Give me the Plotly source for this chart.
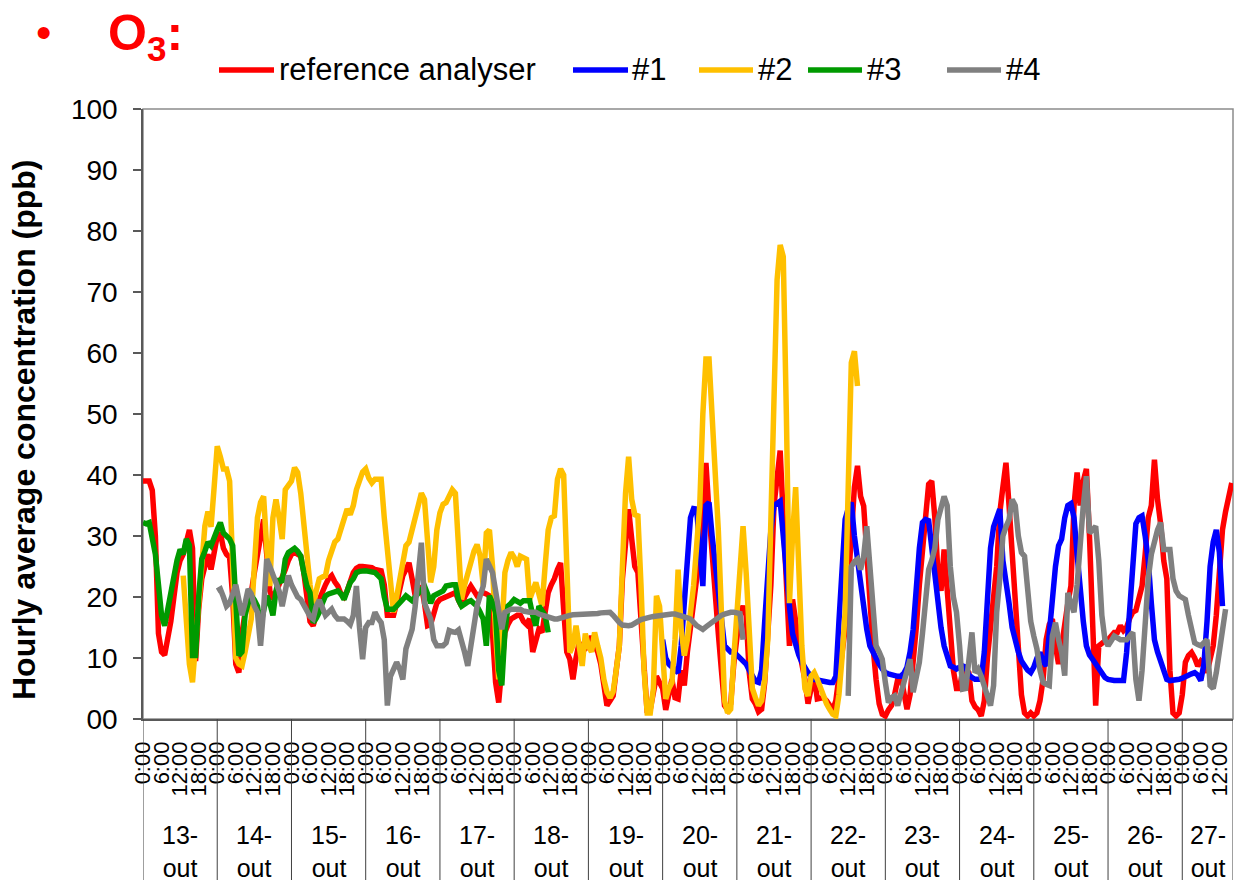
import plotly.graph_objects as go

# ---------------------------------------------------------------------------
# Hourly O3 concentrations (ppb), 13-out 0:00 onwards (hour index 0 = 13-out 0:00)
# ---------------------------------------------------------------------------
days = ["13-", "14-", "15-", "16-", "17-", "18-", "19-", "20-",
        "21-", "22-", "23-", "24-", "25-", "26-", "27-"]
month = "out"
hour_labels = ["0:00", "6:00", "12:00", "18:00"]
y_tick_labels = ["00", "10", "20", "30", "40", "50", "60", "70", "80", "90", "100"]

ref_start = 0
ref_values = [
    39, 39, 39, 37.5, 30, 14, 11, 10.5, 13, 16, 20, 24, 26, 27, 29, 31, 28, 9.5, 18, 23, 25, 27, 24.5, 28,
    30, 30.5, 28, 27, 26.5, 20, 9, 7.6, 14, 17.5, 19, 20.7, 24, 27, 31, 32.7, 27, 21, 19.6, 20.7, 22, 23, 24.5, 26,
    27, 27.3, 27, 26.7, 24, 19, 16, 15.3, 17, 19.6, 21, 22, 23, 23.5, 22.5, 21.8, 20.5, 20, 21, 22.5, 24, 24.7, 25, 25,
    25, 24.8, 24.8, 24.5, 24.5, 24.3, 22, 17, 17, 17, 19, 21, 23.5, 24.5, 25.6, 23, 20.2, 21, 21.8, 19, 15.3, 15.5, 17.5, 19,
    19.6, 19.8, 20, 20.2, 20.5, 20.7, 19.5, 18.5, 20, 21, 21.8, 21, 20.2, 20.5, 20.7, 20.5, 20.2, 14, 6, 2.7, 9, 14.2, 15.5, 16.4,
    16.7, 17, 17, 16, 15.5, 16.4, 11, 13, 14.7, 14.2, 17, 20.7, 22, 23, 24.5, 25.6, 18, 11, 9.8, 6.5, 10, 12.5, 11.5, 11.5,
    12, 13.6, 12, 11, 9, 5, 2.2, 3, 3.8, 8, 12, 23, 29, 34.4, 29.5, 25, 24, 16, 7, 1, 1.6, 4, 7, 6,
    5, 1.5, 4, 6.5, 3.5, 3.3, 8, 5.5, 11, 15, 19, 21.8, 27, 34, 42, 33.8, 28, 20, 14, 8, 2.2, 1.5, 2.5, 9,
    13, 17.5, 18.5, 17, 7.6, 3.3, 2.5, 1.2, 1.6, 6, 14, 22, 35, 40, 44, 33, 24, 12, 19.6, 16, 11.5, 9, 6.5, 2.5,
    5, 7, 3.3, 3.3, 3.5, 3, 2.2, 1.5, 3, 6.5, 11, 14.7, 22, 32, 38, 41.5, 36.5, 34.9, 26, 17, 12, 6.5, 2.5, 0.8,
    0.5, 1.5, 2.2, 4, 6.5, 7, 4, 1.6, 4, 9, 15, 22, 28, 34.5, 38.5, 39, 33, 24, 21, 27.8, 22, 16, 8, 5,
    5, 8, 8.2, 7.6, 3, 2, 1.5, 0.5, 3, 10, 14.2, 20, 25, 33.8, 38, 42, 35, 27, 18, 12, 4, 1, 0.5, 1,
    0.5, 1, 3, 6.5, 13, 15.5, 16.4, 12, 9, 12, 16, 19, 21.8, 35, 40.4, 35, 39, 41, 30, 17.5, 2.2, 12, 12.5, 12.8,
    13, 13.8, 14.2, 14.2, 15.3, 14.5, 15, 16.5, 17.5, 17.8, 20, 21.8, 27, 33, 35, 42.5, 36, 32, 26, 23, 8, 1, 0.5, 1,
    4, 9.3, 10.4, 10.9, 10, 8.7, 9.5, 9, 7.6, 10, 12, 17, 24, 31, 34, 36, 38.7,
]

s1_start = 168
s1_values = [
    13, 10, 9, 8.5, 8, 7.6, 12, 20, 27, 33, 34.5, 34.4, 28, 21.8, 35, 35.5, 30, 25, 20, 16, 12, 11.5, 11, 11,
    10.5, 10.2, 9.8, 9, 8, 7, 6.2, 6, 8, 16, 25, 31, 35, 35.5, 35.7, 30, 23, 18.5, 14, 12, 10.5, 9.3, 8.3, 7.6,
    7, 6.5, 6.4, 6.3, 6, 6, 6, 6, 7, 16, 23, 32.7, 34.5, 35.5, 30, 26, 21.8, 18, 14.7, 12, 10.9, 9.8, 9, 8.2,
    7.6, 7.4, 7.2, 7.1, 7, 7, 7.5, 8.5, 11, 14.7, 22, 28, 32.2, 32.7, 32.5, 28, 24, 20.2, 15, 12, 10, 8.7, 8.5, 8.2,
    8.5, 8.7, 8.5, 7.2, 6.8, 6.5, 6.5, 6.5, 11, 18, 28, 31.5, 33, 34.4, 26, 23, 19, 15, 12.5, 11, 9.5, 8.7, 8, 7.6,
    8.5, 10, 10.9, 9.5, 8.7, 14, 20, 25, 28.4, 29.5, 33, 35, 35.3, 33, 27, 20, 16, 12, 10.5, 9.8, 9, 8.3, 7.5, 6.8,
    6.5, 6.3, 6.3, 6.3, 6.3, 6.3, 10.9, 18, 28, 32, 33, 33.3, 30, 26, 19, 13, 11, 9.3, 7.5, 6.5, 6.3, 6.3, 6.3, 6.5,
    6.7, 7, 7.2, 7.4, 7.6, 7.2, 6.3, 9, 16, 25, 29, 31, 27.3, 18.5,
]

s2_start = 13
s2_values = [
    23.5, 16, 9, 6, 13, 20, 25, 31.6, 34, 31.5, 38,
    44.7, 43, 41, 41, 39, 25, 10, 9, 8.7, 11, 14, 16.4, 25, 33, 35.5, 36.5, 28, 21.8, 33, 36, 33, 29.5, 37.6, 38.5,
    39, 41.2, 40.4, 37, 31, 27, 22, 18.5, 21, 23, 23.3, 23.5, 26, 27.5, 29, 29.5, 31, 33, 34.4, 33.5, 35, 37.6, 39, 40.5,
    41, 39.5, 38.7, 39.3, 39.3, 39.3, 33, 28.4, 22, 17.5, 20, 23, 26, 28.4, 29, 31, 33.8, 35.5, 37, 36, 30, 22.4, 25, 31,
    33.8, 35.2, 35.5, 36.5, 37.6, 37, 28, 19.6, 22, 24, 26.2, 27.5, 28.6, 26.7, 21.8, 30.5, 31, 25, 14, 6.5, 14.2, 24, 26, 27.3,
    26.5, 25, 26.7, 26.5, 26.2, 19.6, 21, 22.4, 20.5, 18.5, 25, 31, 33, 33.3, 39.3, 41, 40, 25, 10.9, 12, 15.3, 12, 8.7, 14,
    12, 11, 14.2, 12, 10, 6.5, 4.4, 3.5, 4.5, 8, 12, 25, 37, 43, 36, 33.5, 33.3, 22, 8, 1, 1, 5, 20.2, 18.5,
    9, 3.3, 5, 6, 13, 24.5, 14.7, 10.4, 13, 17.5, 21.8, 28.4, 35, 50, 59, 59, 50, 38, 31, 17.5, 3, 1, 1.6, 10,
    18, 22.9, 31.6, 24, 12, 5, 3.5, 2.2, 3, 6.5, 13, 33.8, 55, 72, 77.7, 75.8, 50, 19, 30, 38, 25, 12, 5, 3.8,
    7, 7.6, 6.5, 5, 3.8, 2.5, 1.6, 0.8, 0.5, 4, 10, 17.5, 38, 58.4, 60.3, 54.6,
]

s3_start = 0
s3_values = [
    32.2, 32, 32.2, 30, 27, 22, 17, 15.3, 18, 21.8, 24, 26, 27.8, 27, 29.5, 28.5, 10.4, 10.4, 20, 26.2, 27.5, 29, 28.4, 30,
    31, 32.2, 30.5, 30, 29.5, 28.4, 18, 10.4, 11, 17, 19, 20.2, 19.5, 18.5, 15.3, 18, 20.2, 19, 17, 21, 23, 22.4, 26.2, 27.3,
    27.7, 28, 27.5, 26.7, 24, 21.8, 20.7, 15.8, 16.5, 17.5, 19, 20.2, 20.5, 20.7, 21, 21, 20.5, 19.6, 21, 22.4, 23, 24, 24.2, 24.3,
    24.3, 24.2, 24.1, 24, 23.5, 23, 20, 18, 18, 18, 18.5, 19.2, 19.6, 20.2, 19.8, 19.4, 20, 20.7, 21.2, 21.8, 20.5, 19, 20.2, 20.5,
    20.7, 21, 21.8, 22, 22, 22, 19.5, 18.5, 19, 19.2, 19.4, 19, 18.5, 17.5, 16.4, 12, 20.2, 19, 17.5, 8, 5.5, 14.2, 18.5, 19,
    19.6, 19.3, 19, 19.4, 19.4, 19.4, 17, 15.3, 18.5, 17.5, 17, 14.2,
]

# None marks the hours with no data from analyser #4
s4_start = 24
s4_values = [
    21, 21.3, 20, 18.5, 19, 20.5, 22, 19.5, 17, 19, 21.3, 20.5, 18.5, 17.5, 12, 18, 26.2, 25, 23.5, 22.5, 21, 18.5, 21, 23.5,
    22, 20.7, 20, 19.6, 18.5, 17.5, 16.8, 16.4, 18.5, 19.5, 18, 17, 17.5, 18, 17, 16.4, 16.4, 16.4, 16, 15.5, 17, 21.8, 15, 9.8,
    15, 15.8, 15.8, 17.5, 16.5, 15.8, 13, 2.2, 7, 8, 9.3, 8.2, 6.5, 11.5, 13.5, 14.7, 18.5, 24, 28.9, 19, 17.5, 16.4, 13, 12,
    12, 12, 12.5, 14.5, 14.3, 14.2, 14.6, 13, 10.9, 8.7, 12, 15.8, 18.5, 20.2, 21.8, 26.2, 25, 24, 21, 17.5, 14.7, 17.5, 17.8, 18,
    18, 18, 18, 17.7, 17.5, 17.5, 17.5, 17.5, 17.2, 17, 16.8, 16.6, 16.4, 16.4, 16.4, 16.6, 16.8, 17, 17, 17.1, 17.1, 17.2, 17.2, 17.2,
    17.2, 17.3, 17.3, 17.3, 17.4, 17.4, 17.5, 17.5, 17, 16.3, 15.8, 15.4, 15.3, 15.3, 15.4, 15.8, 16, 16.3, 16.5, 16.6, 16.7, 16.8, 16.9, 17,
    17, 17.1, 17.2, 17.2, 17.2, 17.1, 17, 16.8, 16.6, 16.4, 15.8, 15.3, 15, 14.7, 15.1, 15.5, 16, 16.4, 16.7, 17, 17.2, 17.4, 17.5, 17.5,
    17.5, 17.3, 13,
] + [None] * 33 + [
    3.8, 25, 25.8, 26.2, 24.5, 26.7, 31.6, 25, 18, 12, 11, 9.8,
    6, 2.7, 3.5, 3.8, 2.2, 4, 6, 8, 9.8, 4.4, 7, 9.3, 14, 20.2, 24.5, 26, 28, 32.7, 35, 36.5, 35, 25, 20, 17.5,
    12, 4.9, 5, 9.3, 14.2, 7.6, 8.2, 7, 5.5, 4, 2.2, 5.5, 17.5, 23, 30, 31.5, 32.7, 36, 35, 30, 27.3, 26.7, 20.2, 16,
    13.6, 11.5, 8, 6, 5.7, 5.5, 13.6, 15.8, 13, 10.9, 7.1, 20.7, 19, 17.5, 22, 30, 35, 39.8, 30.5, 31, 31.6, 26, 17, 13,
    12, 12.8, 13.6, 13.3, 13, 13, 13, 13.6, 14.2, 6.5, 3, 8, 17, 23, 27, 29.5, 31, 32.2, 27.8, 27.8, 27.8, 23, 21, 20.2,
    20, 19.6, 17, 14.2, 12.5, 12.2, 12, 12.5, 13, 5.5, 5, 7.6, 11, 14.2, 18,
]

series = [
    ("reference analyser", ref_start, ref_values, "#FF0000"),
    ("#1", s1_start, s1_values, "#0000FF"),
    ("#2", s2_start, s2_values, "#FFC000"),
    ("#3", s3_start, s3_values, "#009A00"),
    ("#4", s4_start, s4_values, "#808080"),
]

# ---------------------------------------------------------------------------
W, H = 1237, 880
ML, MR, MT, MB = 143, 4, 109, 161
PW, PH = W - ML - MR, H - MT - MB
X_END = 352.4
FONT = "Arial, Liberation Sans, sans-serif"


def px_x(p):
    return (p - ML) / PW


def px_y(p):
    return (H - MB - p) / PH


fig = go.Figure()
for name, start, vals, color in series:
    fig.add_trace(go.Scatter(
        x=list(range(start, start + len(vals))), y=vals, name=name,
        mode="lines", line=dict(color=color, width=5.5), connectgaps=False,
        showlegend=False,
    ))

n_days = len(days)
tickvals = [d * 24 + h for d in range(n_days) for h in (0, 6, 12, 18) if d * 24 + h <= X_END]
ticktext = [hour_labels[(v % 24) // 6] for v in tickvals]

shapes = []
# plot-area frame
shapes.append(dict(type="rect", xref="paper", yref="paper", x0=0, x1=1, y0=0, y1=1,
                   line=dict(color="#8C8C8C", width=1.5), layer="below"))
# day separators in the category band under the plot
bounds = [d * 24 for d in range(n_days)] + [X_END]
for b in bounds:
    shapes.append(dict(type="line", xref="x", yref="paper", x0=b, x1=b, y0=0, y1=-MB / PH,
                       line=dict(color="#404040", width=1)))

annotations = []
for d, lab in enumerate(days):
    x0 = d * 24
    x1 = min(x0 + 24, X_END)
    annotations.append(dict(x=(x0 + x1) / 2, y=px_y(851), xref="x", yref="paper",
                            text=f"{lab}<br>{month}", showarrow=False,
                            font=dict(family=FONT, size=25, color="black"),
                            xanchor="center", yanchor="middle", align="center"))

# y-axis title
annotations.append(dict(x=px_x(24), y=px_y(430), xref="paper", yref="paper",
                        text="<b>Hourly average concentration (ppb)</b>", textangle=-90,
                        showarrow=False, font=dict(family=FONT, size=32, color="black"),
                        xanchor="center", yanchor="middle"))

# heading
annotations.append(dict(x=px_x(43), y=px_y(32), xref="paper", yref="paper", text="•",
                        showarrow=False, font=dict(family=FONT, size=44, color="#FF0000"),
                        xanchor="center", yanchor="middle"))
annotations.append(dict(x=px_x(106), y=px_y(3), xref="paper", yref="paper",
                        text="<b>O<sub>3</sub>:</b>", showarrow=False,
                        font=dict(family=FONT, size=50, color="#FF0000"),
                        xanchor="left", yanchor="top"))

# legend row
legend_items = [(219, 274, 277), (573, 628, 630), (699, 753, 756), (808, 862, 865), (947, 1001, 1004)]
for (name, _, _, color), (lx0, lx1, tx) in zip(series, legend_items):
    shapes.append(dict(type="line", xref="paper", yref="paper", x0=px_x(lx0), x1=px_x(lx1),
                       y0=px_y(70), y1=px_y(70), line=dict(color=color, width=5.5)))
    annotations.append(dict(x=px_x(tx), y=px_y(70), xref="paper", yref="paper", text=name,
                            showarrow=False, font=dict(family=FONT, size=31, color="black"),
                            xanchor="left", yanchor="middle"))

fig.update_layout(
    width=W, height=H,
    margin=dict(l=ML, r=MR, t=MT, b=MB, pad=0),
    paper_bgcolor="white", plot_bgcolor="white",
    showlegend=False,
    shapes=shapes, annotations=annotations,
    xaxis=dict(range=[0, X_END], tickmode="array", tickvals=tickvals, ticktext=ticktext,
               tickangle=-90, ticks="", showgrid=False, zeroline=False,
               showline=True, linecolor="#595959", linewidth=1.5,
               tickfont=dict(family=FONT, size=22, color="black"), ticklabelstandoff=12),
    yaxis=dict(range=[0, 100], tickmode="array", tickvals=list(range(0, 101, 10)),
               ticktext=y_tick_labels, ticks="outside", ticklen=8, tickcolor="#595959",
               tickwidth=1.5, showgrid=False, zeroline=False, showline=True,
               linecolor="#595959", linewidth=1.5,
               tickfont=dict(family=FONT, size=28, color="black"), ticklabelstandoff=10),
)

fig.write_html("out.html")
